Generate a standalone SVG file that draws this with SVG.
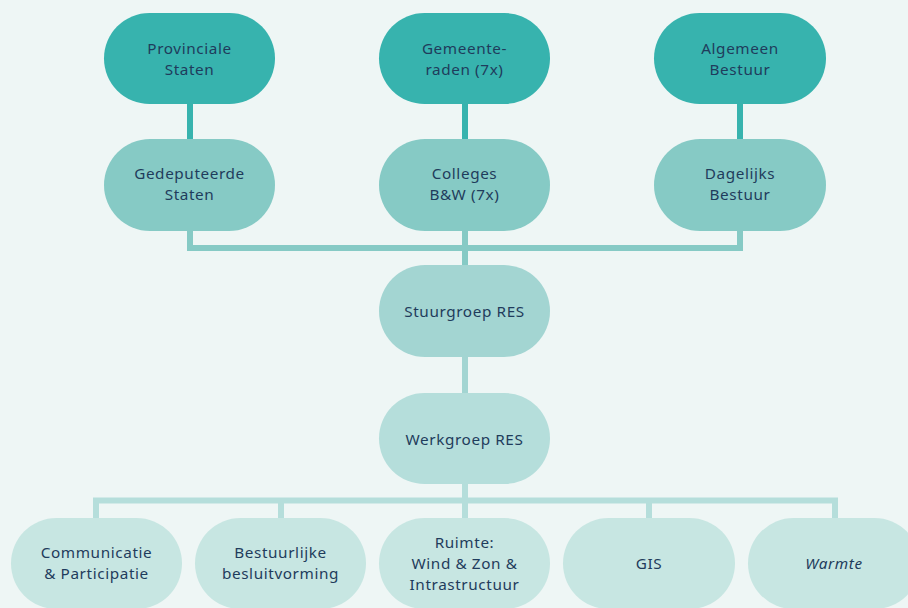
<svg xmlns="http://www.w3.org/2000/svg" width="908" height="608" viewBox="0 0 908 608">
<style>
text{font-family:"Noto Sans","Liberation Sans",sans-serif;font-size:15.3px;letter-spacing:0.6px;fill:#1f3c5c;text-anchor:middle}
.l1{fill:#37b3ae}.l2{fill:#86cac5}.l3{fill:#a3d5d2}.l4{fill:#b5dedb}.l5{fill:#c7e6e2}
.c1{stroke:#37b3ae}.c2{stroke:#86cac5}.c3{stroke:#a3d5d2}.c4{stroke:#b5dedb}
#connectors path{fill:none;stroke-width:6}
</style>
<rect width="908" height="608" fill="#eef6f5"/>
<g id="connectors">
<path class="c1" d="M190 104V139M465 104V139M740 104V139"/>
<path class="c2" d="M190 231V248H740V231M465 231V265"/>
<path class="c3" d="M465 357V393"/>
<path class="c4" d="M465 484V500.5M96 518V500.5H835V518M281 500.5V518M649 500.5V518M465 500.5V518"/>
</g>
<g id="provinciale-staten"><rect class="l1" x="104" y="13" width="171" height="91" rx="45.5"/><text x="189.5" y="53.5">Provinciale</text><text x="189.5" y="74.5">Staten</text></g>
<g id="gemeenteraden"><rect class="l1" x="379" y="13" width="171" height="91" rx="45.5"/><text x="464.5" y="53.5">Gemeente-</text><text x="464.5" y="74.5">raden (7x)</text></g>
<g id="algemeen-bestuur"><rect class="l1" x="654" y="13" width="172" height="91" rx="45.5"/><text x="740" y="53.5">Algemeen</text><text x="740" y="74.5">Bestuur</text></g>
<g id="gedeputeerde-staten"><rect class="l2" x="104" y="139" width="171" height="92" rx="46"/><text x="189.5" y="179">Gedeputeerde</text><text x="189.5" y="200">Staten</text></g>
<g id="colleges"><rect class="l2" x="379" y="139" width="171" height="92" rx="46"/><text x="464.5" y="179">Colleges</text><text x="464.5" y="200">B&amp;W (7x)</text></g>
<g id="dagelijks-bestuur"><rect class="l2" x="654" y="139" width="172" height="92" rx="46"/><text x="740" y="179">Dagelijks</text><text x="740" y="200">Bestuur</text></g>
<g id="stuurgroep"><rect class="l3" x="379" y="265" width="171" height="92" rx="46"/><text x="464.5" y="316.5">Stuurgroep RES</text></g>
<g id="werkgroep"><rect class="l4" x="379" y="393" width="171" height="91" rx="45.5"/><text x="464.5" y="444.5">Werkgroep RES</text></g>
<g id="communicatie"><rect class="l5" x="11" y="518" width="171" height="91" rx="45.5"/><text x="96.5" y="557.5">Communicatie</text><text x="96.5" y="578.5">&amp; Participatie</text></g>
<g id="bestuurlijke"><rect class="l5" x="195" y="518" width="171" height="91" rx="45.5"/><text x="280.5" y="557.5">Bestuurlijke</text><text x="280.5" y="578.5">besluitvorming</text></g>
<g id="ruimte"><rect class="l5" x="379" y="518" width="171" height="91" rx="45.5"/><text x="464.5" y="547.5">Ruimte:</text><text x="464.5" y="568.5">Wind &amp; Zon &amp;</text><text x="464.5" y="589.5">Intrastructuur</text></g>
<g id="gis"><rect class="l5" x="563" y="518" width="172" height="91" rx="45.5"/><text x="649" y="568.5">GIS</text></g>
<g id="warmte"><rect class="l5" x="748" y="518" width="172" height="91" rx="45.5"/><text x="834" y="568.5" font-style="italic">Warmte</text></g>
</svg>
